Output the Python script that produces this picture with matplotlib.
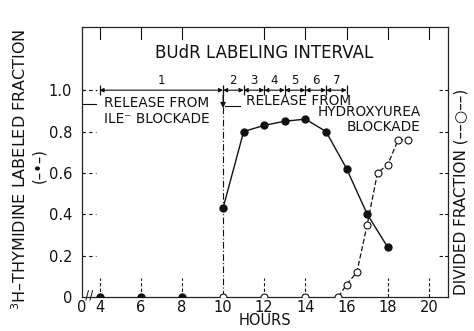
import matplotlib
matplotlib.use("Agg")
import matplotlib.pyplot as plt

plt.rcParams['font.family'] = ['DejaVu Sans']

# ---- data ----
labeled_hours = [4, 6, 8, 10, 11, 12, 13, 14, 15, 16, 17, 18]
labeled_frac = [0, 0, 0, 0.43, 0.80, 0.83, 0.85, 0.86, 0.80, 0.62, 0.40, 0.24]

divided_hours = [10, 12, 14, 15.6, 16.0, 16.5, 17.0, 17.5, 18.0, 18.5, 19.0]
divided_frac = [0, 0, 0, 0, 0.06, 0.12, 0.35, 0.60, 0.64, 0.76, 0.76]

interval_edges = [4, 10, 11, 12, 13, 14, 15, 16]
interval_labels = ['1', '2', '3', '4', '5', '6', '7']

x_ticks = [4, 6, 8, 10, 12, 14, 16, 18, 20]
x_tick_labels = ['4', '6', '8', '10', '12', '14', '16', '18', '20']
y_ticks = [0, 0.2, 0.4, 0.6, 0.8, 1.0]
y_tick_labels = ['0', '0.2', '0.4', '0.6', '0.8', '1.0']

XMIN, XMAX = 3.15, 20.92
YMIN, YMAX = 0.0, 1.305

fig = plt.figure(figsize=(4.74, 3.31), dpi=100)
ax = fig.add_axes([0.173, 0.103, 0.772, 0.815])
ax.set_xlim(XMIN, XMAX)
ax.set_ylim(YMIN, YMAX)

ink = '#111111'
for s in ax.spines.values():
    s.set_linewidth(0.9)
    s.set_color('#222222')

# ticks
ax.set_xticks([XMIN] + x_ticks)
ax.set_xticklabels(['0'] + x_tick_labels, fontsize=10.5)
ax.set_yticks(y_ticks)
ax.set_yticklabels(y_tick_labels, fontsize=10.5)
ax.tick_params(axis='x', direction='in', length=0, pad=2, colors=ink)
ax.tick_params(axis='y', direction='in', length=0, pad=7, colors=ink)

# inward tick stubs (dashed look)
for xt in [4, 6, 8, 12, 14, 18, 20]:
    ax.plot([xt, xt], [0, 0.09], color=ink, lw=0.8, ls=(0, (3, 2)))
for xt in [4, 6, 8, 12, 14, 16, 18, 20]:
    ax.plot([xt, xt], [YMAX, YMAX - 0.055], color=ink, lw=0.8)
for yt in y_ticks[1:]:
    ax.plot([XMIN, XMIN + 0.7], [yt, yt], color=ink, lw=0.8, ls=(0, (3, 3)))
    ax.plot([XMAX, XMAX - 0.5], [yt, yt], color=ink, lw=0.8, ls=(0, (3, 2)))

# axis break marks
for dx in (0.25, 0.45):
    ax.plot([XMIN + dx - 0.06, XMIN + dx + 0.06], [-0.015, 0.03], color=ink, lw=0.7, clip_on=False)

# vertical dashed line at 10 with down arrow
ax.plot([10, 10], [0, 1.0], color=ink, lw=0.8, ls=(0, (6, 2, 1, 2)))
ax.annotate('', xy=(10, 0.9), xytext=(10, 0.99),
            arrowprops=dict(arrowstyle='-|>', color=ink, lw=0.8, mutation_scale=8))

# horizontal line at release level
ax.plot([XMIN, 3.85], [0.935, 0.935], color=ink, lw=0.8)
ax.plot([10.1, 10.8], [0.925, 0.925], color=ink, lw=0.8)

# labeling intervals
ax.plot([XMIN, 3.9], [1.0, 1.0], color=ink, lw=0.8, ls=(0, (3, 3)))
for a, b, lab in zip(interval_edges[:-1], interval_edges[1:], interval_labels):
    ax.annotate('', xy=(a, 1.0), xytext=(b, 1.0),
                arrowprops=dict(arrowstyle='<|-|>', color=ink, lw=0.8,
                                mutation_scale=6, shrinkA=0, shrinkB=0))
    ax.text((a + b) / 2, 1.015, lab, ha='center', va='bottom', fontsize=8.5, color=ink)
ax.plot(interval_edges, [1.0] * len(interval_edges), ls='none', marker='|',
        ms=7, mew=0.9, color=ink)

# data
ax.plot(labeled_hours[3:], labeled_frac[3:], color=ink, lw=1.0, zorder=3)
ax.plot(labeled_hours, labeled_frac, ls='none', marker='o', ms=5,
        color=ink, zorder=4, clip_on=True)
ax.plot(divided_hours[3:], divided_frac[3:], color=ink, lw=0.9,
        ls=(0, (4, 2)), zorder=3)
ax.plot(divided_hours, divided_frac, ls='none', marker='o', ms=5,
        mfc='white', mec=ink, mew=0.8, zorder=5, clip_on=True)

# texts
ax.text(12.0, 1.18, 'BUdR LABELING INTERVAL', ha='center', va='center',
        fontsize=12, color=ink)
ax.text(4.2, 0.937, 'RELEASE FROM', ha='left', va='center', fontsize=9.8, color=ink)
ax.text(4.2, 0.862, 'ILE\u207b BLOCKADE', ha='left', va='center', fontsize=9.8, color=ink)
ax.text(16.2, 0.948, 'RELEASE FROM', ha='right', va='center', fontsize=9.8, color=ink)
ax.text(19.6, 0.895, 'HYDROXYUREA', ha='right', va='center', fontsize=9.8, color=ink)
ax.text(19.6, 0.82, 'BLOCKADE', ha='right', va='center', fontsize=9.8, color=ink)

ax.set_xlabel('HOURS', fontsize=10.5, color=ink, labelpad=-1)

fig.text(0.042, 0.49, '$^{3}$H\u2013THYMIDINE LABELED FRACTION', rotation=90,
         ha='center', va='center', fontsize=11.5, color=ink)
fig.text(0.082, 0.50, '(\u2013\u2022\u2013)', rotation=90,
         ha='center', va='center', fontsize=10.5, color=ink)
fig.text(0.972, 0.42, 'DIVIDED FRACTION (\u2013\u2013\u25cb\u2013\u2013)', rotation=90,
         ha='center', va='center', fontsize=11, color=ink)

fig.savefig('out.png', dpi=100)
